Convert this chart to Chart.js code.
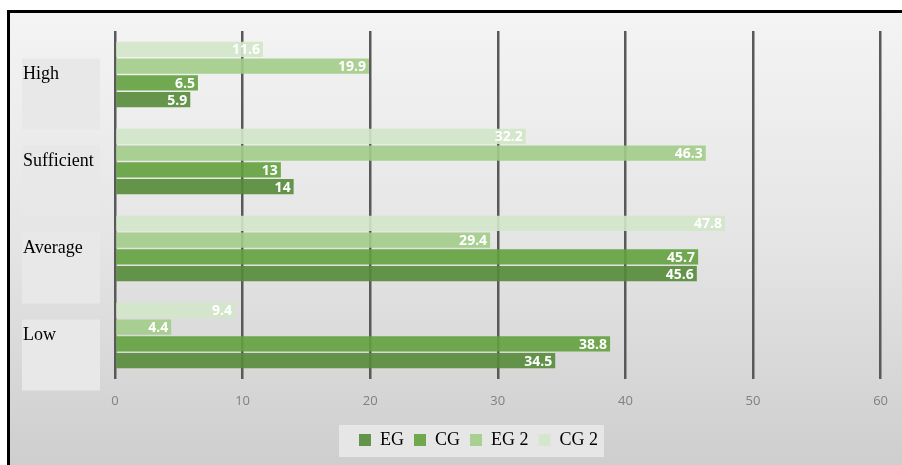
<!DOCTYPE html>
<html><head><meta charset="utf-8">
<script src="https://cdn.jsdelivr.net/npm/chart.js@4/dist/chart.umd.min.js"></script>
<style>html,body{margin:0;padding:0;background:#fff;} canvas{display:block;}</style>
</head><body>
<canvas id="c" width="902" height="465"></canvas>
<script>
// ---- data ----
const categories = ['High', 'Sufficient', 'Average', 'Low'];
const seriesNames = ['CG 2', 'EG 2', 'CG', 'EG'];
const cg2Values = [11.6, 32.2, 47.8, 9.4];
const eg2Values = [19.9, 46.3, 29.4, 4.4];
const cgValues  = [6.5, 13, 45.7, 38.8];
const egValues  = [5.9, 14, 45.6, 34.5];
const xTickValues = [0, 10, 20, 30, 40, 50, 60];

const seriesColors = ['rgba(210,230,200,0.9)', 'rgba(162,204,136,0.9)', 'rgba(99,161,63,0.9)', 'rgba(85,139,56,0.9)'];
const seriesValues = [cg2Values, eg2Values, cgValues, egValues];

const frame = {
  id: 'frame',
  afterLayout(chart) {
    chart.legend.left += 25;
    chart.legend.right += 25;
  },
  beforeDraw(chart) {
    const ctx = chart.ctx;
    const W = chart.width, H = chart.height;
    ctx.save();
    ctx.fillStyle = '#ffffff';
    ctx.fillRect(0, 0, W, H);
    const g = ctx.createLinearGradient(0, 12, 0, H);
    g.addColorStop(0, '#f4f4f4');
    g.addColorStop(0.5, '#e5e5e5');
    g.addColorStop(1, '#cecece');
    ctx.fillStyle = g;
    ctx.fillRect(9, 12, W - 9, H - 12);
    // label boxes
    const y = chart.scales.y;
    ctx.fillStyle = '#e8e8e8';
    categories.forEach((c, i) => {
      const cy = y.getPixelForTick(i);
      ctx.fillRect(y.left - 1, cy - 16, y.width - 14, 71);
    });
    // legend box
    const hb = chart.legend.legendHitBoxes;
    if (hb && hb.length) {
      const f = hb[0], l = hb[hb.length - 1];
      ctx.fillStyle = '#e6e6e6';
      ctx.fillRect(f.left - 20, f.top - 6, (l.left + l.width + 6) - (f.left - 20), f.height + 14);
    }
    // border
    ctx.strokeStyle = '#000';
    ctx.lineWidth = 3;
    ctx.beginPath();
    ctx.moveTo(8.5, H + 5);
    ctx.lineTo(8.5, 11.5);
    ctx.lineTo(W + 5, 11.5);
    ctx.stroke();
    ctx.restore();
  },
  afterDatasetsDraw(chart) {
    const ctx = chart.ctx;
    ctx.save();
    ctx.font = 'bold 14px "Open Sans"';
    ctx.fillStyle = '#ffffff';
    ctx.textAlign = 'right';
    ctx.textBaseline = 'middle';
    chart.data.datasets.forEach((ds, di) => {
      const meta = chart.getDatasetMeta(di);
      meta.data.forEach((el, i) => {
        ctx.fillText(String(ds.data[i]), el.x - 3, el.y + 1);
      });
    });
    ctx.restore();
  }
};

new Chart(document.getElementById('c'), {
  type: 'bar',
  data: {
    labels: categories,
    datasets: seriesNames.map((n, i) => ({
      label: n,
      data: seriesValues[i],
      backgroundColor: seriesColors[i],
      borderWidth: 0,
      categoryPercentage: 0.77,
      barPercentage: 0.9
    }))
  },
  options: {
    indexAxis: 'y',
    responsive: false,
    animation: false,
    devicePixelRatio: 1,
    layout: { padding: { left: 23, top: 31, right: 18, bottom: 6 } },
    scales: {
      x: {
        min: 0, max: 60,
        afterBuildTicks: s => { s.ticks = xTickValues.map(v => ({ value: v })); },
        afterFit: s => { s.height = 42; },
        grid: { color: '#595959', lineWidth: 2.5, drawTicks: false },
        border: { display: false },
        ticks: { padding: 14, color: '#808080', font: { family: '"Open Sans"', size: 13 } }
      },
      y: {
        afterFit: s => { s.width = 92; },
        grid: { display: false },
        border: { display: false },
        ticks: { crossAlign: 'far', color: '#000', font: { family: '"Liberation Serif"', size: 18 } }
      }
    },
    plugins: {
      legend: {
        position: 'bottom',
        reverse: true,
        labels: { boxWidth: 12, boxHeight: 12, padding: 10, color: '#000', font: { family: '"Liberation Serif"', size: 18 } }
      },
      tooltip: { enabled: false }
    }
  },
  plugins: [frame]
});
</script>
</body></html>
